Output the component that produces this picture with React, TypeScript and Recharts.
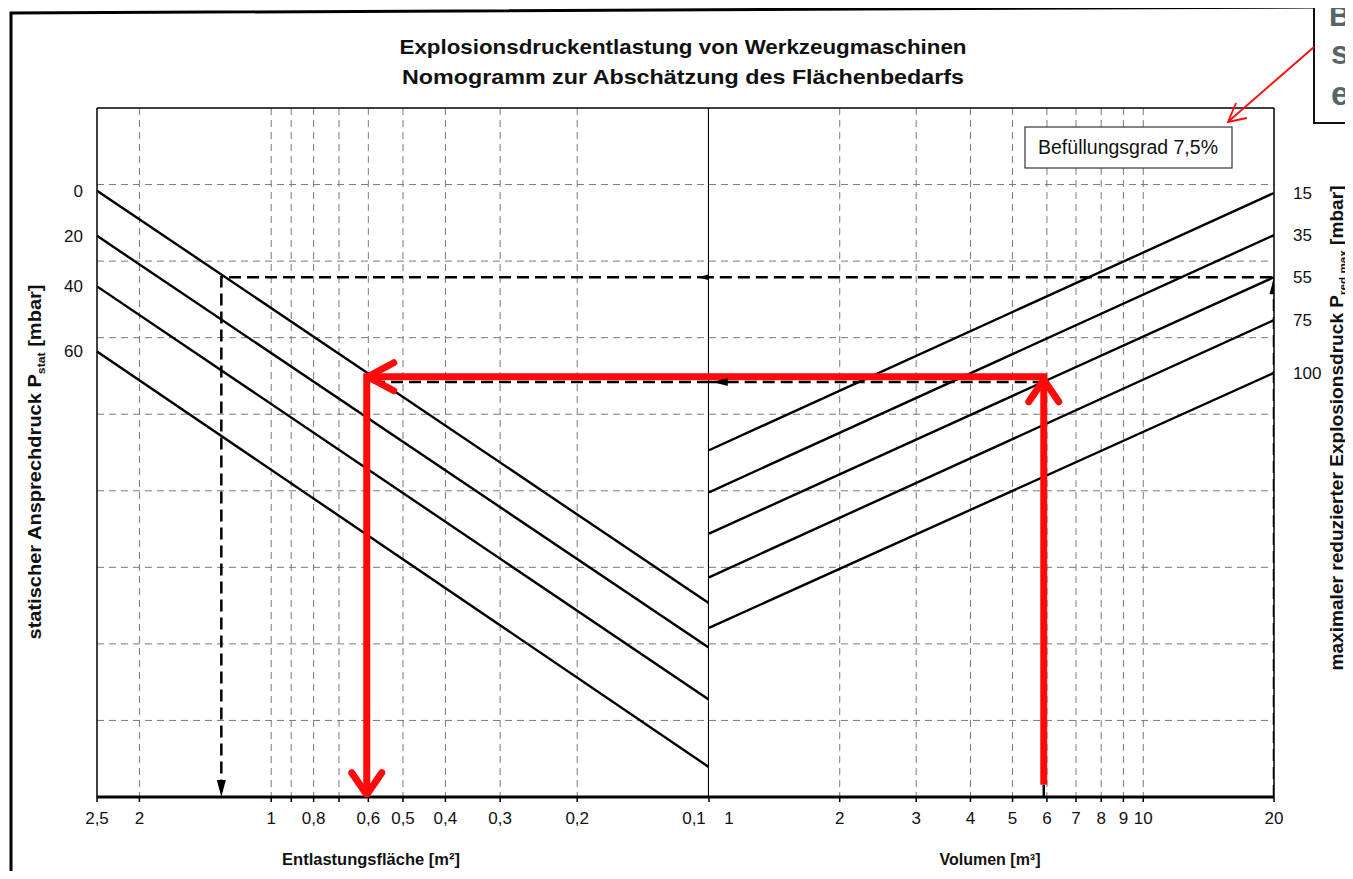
import React from 'react';
import { ComposedChart, Line, XAxis, YAxis, ReferenceLine, Scatter, CartesianGrid } from 'recharts';

// ---- Left panel: Entlastungsfläche [m²] (logarithmic, reversed) ----
const areaTicks = [2.5, 2, 1, 0.9, 0.8, 0.7, 0.6, 0.5, 0.4, 0.3, 0.2, 0.1];
const areaTickLabels = ['2,5', '2', '1', '', '0,8', '', '0,6', '0,5', '0,4', '0,3', '0,2', '0,1'];
const areaGrid = [2, 1, 0.9, 0.8, 0.7, 0.6, 0.5, 0.4, 0.3, 0.2];

// ---- Right panel: Volumen [m³] (logarithmic) ----
const volumeTicks = [1, 2, 3, 4, 5, 6, 7, 8, 9, 10, 20];
const volumeTickLabels = ['1', '2', '3', '4', '5', '6', '7', '8', '9', '10', '20'];
const volumeGrid = [2, 3, 4, 5, 6, 7, 8, 9, 10];

// nomogram vertical scale (0 = bottom, 90 = top)
const levelGrid = [10, 20, 30, 40, 50, 60, 70, 80];

// p_stat lines (left panel)
const pstatLabels = ['0', '20', '40', '60'];
const pstatAtMaxArea = [79.2, 73.3, 66.7, 58.2]; // at 2,5 m²
const pstatAtMinArea = [25.3, 19.5, 12.7, 3.9]; // at 0,1 m²

// p_red,max lines (right panel)
const predLabels = ['15', '35', '55', '75', '100'];
const predAtMinVolume = [45.3, 39.8, 34.4, 28.7, 22.1]; // at 1 m³
const predAtMaxVolume = [78.9, 73.4, 67.9, 62.3, 55.4]; // at 20 m³

// dashed example readings
const dashedLevels = [67.9, 54.2];
const dashedAreas = [1.3, 0.6];
const dashedVolumes = [20, 5.9];

// red worked example
const redLevel = 54.9;
const redArea = 0.605;
const redVolume = 5.9;
const redVolumeStartLevel = 1.6;
const redAreaEndLevel = 0.3;

const AREA_MIN = 0.1;
const AREA_MAX = 2.5;
const VOL_MIN = 1;
const VOL_MAX = 20;

const FONT = '"Liberation Sans", Arial, Helvetica, sans-serif';
const RED = '#ff0a0a';
const TICK_FS = 17;

const leftLines = pstatAtMaxArea.map((v, i) => [
  { x: AREA_MAX, y: v },
  { x: AREA_MIN, y: pstatAtMinArea[i] },
]);
const rightLines = predAtMinVolume.map((v, i) => [
  { x: VOL_MIN, y: v },
  { x: VOL_MAX, y: predAtMaxVolume[i] },
]);

const leftDashed = dashedLevels.map((lvl, i) => [
  { x: AREA_MIN, y: lvl },
  { x: dashedAreas[i], y: lvl },
  { x: dashedAreas[i], y: 0 },
]);
const rightDashed = dashedLevels.map((lvl, i) => [
  { x: dashedVolumes[i], y: 0 },
  { x: dashedVolumes[i], y: lvl },
  { x: VOL_MIN, y: lvl },
]);

const leftRed = [
  { x: AREA_MIN, y: redLevel },
  { x: redArea, y: redLevel },
  { x: redArea, y: redAreaEndLevel },
];
const rightRed = [
  { x: redVolume, y: redVolumeStartLevel },
  { x: redVolume, y: redLevel },
  { x: VOL_MIN, y: redLevel },
];

const TriDown = (p: any) => (
  <path d={`M${p.cx - 4.5},${p.cy - 17} L${p.cx + 4.5},${p.cy - 17} L${p.cx},${p.cy} Z`} fill="#000" />
);
const TriUp = (p: any) => (
  <path d={`M${p.cx - 4.5},${p.cy + 17} L${p.cx + 4.5},${p.cy + 17} L${p.cx},${p.cy} Z`} fill="#000" />
);
const TriLeft = (p: any) => (
  <path d={`M${p.cx + 15},${p.cy - 4} L${p.cx + 15},${p.cy + 4} L${p.cx},${p.cy} Z`} fill="#000" />
);
const ChevLeft = (p: any) => (
  <polyline
    points={`${p.cx + 27},${p.cy - 14} ${p.cx + 1},${p.cy} ${p.cx + 27},${p.cy + 14}`}
    fill="none" stroke={RED} strokeWidth={7} strokeLinecap="round" strokeLinejoin="round"
  />
);
const ChevDown = (p: any) => (
  <polyline
    points={`${p.cx - 15},${p.cy - 22} ${p.cx},${p.cy} ${p.cx + 15},${p.cy - 22}`}
    fill="none" stroke={RED} strokeWidth={7} strokeLinecap="round" strokeLinejoin="round"
  />
);
const ChevUp = (p: any) => (
  <polyline
    points={`${p.cx - 15},${p.cy + 22} ${p.cx},${p.cy} ${p.cx + 15},${p.cy + 22}`}
    fill="none" stroke={RED} strokeWidth={7} strokeLinecap="round" strokeLinejoin="round"
  />
);

const AreaTick = (props: any) => {
  const { x, y, payload } = props;
  const i = areaTicks.indexOf(payload.value);
  const label = i >= 0 ? areaTickLabels[i] : '';
  const dx = payload.value === AREA_MIN ? -15 : 0;
  return (
    <text x={x + dx} y={y} dy="0.71em" textAnchor="middle" fontSize={TICK_FS} fill="#111" fontFamily={FONT}>
      {label}
    </text>
  );
};
const VolumeTick = (props: any) => {
  const { x, y, payload } = props;
  const i = volumeTicks.indexOf(payload.value);
  const label = i >= 0 ? volumeTickLabels[i] : '';
  const dx = payload.value === VOL_MIN ? 20 : 0;
  return (
    <text x={x + dx} y={y} dy="0.71em" textAnchor="middle" fontSize={TICK_FS} fill="#111" fontFamily={FONT}>
      {label}
    </text>
  );
};
const PstatTick = (props: any) => {
  const { x, y, payload } = props;
  const i = pstatAtMaxArea.indexOf(payload.value);
  return (
    <text x={x} y={y} dy="0.35em" textAnchor="end" fontSize={TICK_FS} fill="#111" fontFamily={FONT}>
      {i >= 0 ? pstatLabels[i] : ''}
    </text>
  );
};
const PredTick = (props: any) => {
  const { x, y, payload } = props;
  const i = predAtMaxVolume.indexOf(payload.value);
  return (
    <text x={x} y={y} dy="0.35em" textAnchor="start" fontSize={TICK_FS} fill="#111" fontFamily={FONT}>
      {i >= 0 ? predLabels[i] : ''}
    </text>
  );
};

const lineProps = {
  type: 'linear' as const,
  dataKey: 'y',
  dot: false,
  activeDot: false,
  isAnimationActive: false,
  legendType: 'none' as const,
};

const CHART_TOP = 100;
const CHART_H = 871;
const PLOT_H = 689;
const X_AXIS_H = CHART_H - CHART_TOP - PLOT_H;

function LeftChart() {
  return (
    <ComposedChart width={701} height={CHART_H} margin={{ top: CHART_TOP, right: 0, bottom: 0, left: 0 }}>
      <CartesianGrid stroke="#7a7a7a" strokeWidth={1} strokeDasharray="7 5" verticalValues={areaGrid} horizontalValues={levelGrid} />
      <XAxis
        dataKey="x" type="number" scale="log" domain={[AREA_MIN, AREA_MAX]} reversed allowDataOverflow
        ticks={areaTicks} interval={0} height={X_AXIS_H}
        axisLine={{ stroke: '#000', strokeWidth: 3 }} tickLine={{ stroke: '#000', strokeWidth: 1.5 }}
        tickSize={5} tickMargin={10} tick={<AreaTick />}
      />
      <YAxis
        dataKey="y" type="number" domain={[0, 90]} allowDataOverflow width={89}
        ticks={pstatAtMaxArea} interval={0} tickLine={false} tickSize={0} tickMargin={14}
        axisLine={{ stroke: '#000', strokeWidth: 1.5 }} tick={<PstatTick />}
      />
      <ReferenceLine y={90} stroke="#000" strokeWidth={1.5} />
      <ReferenceLine x={AREA_MIN} stroke="#000" strokeWidth={2.2} />
      {leftLines.map((d, i) => (
        <Line key={'l' + i} {...lineProps} data={d} stroke="#000" strokeWidth={2.4} />
      ))}
      {leftDashed.map((d, i) => (
        <Line key={'ld' + i} {...lineProps} data={d} stroke="#000" strokeWidth={2.5} strokeDasharray="12 6" />
      ))}
      <Scatter data={[{ x: dashedAreas[0], y: 0 }]} shape={TriDown} isAnimationActive={false} legendType="none" />
      <Scatter data={[{ x: 0.106, y: dashedLevels[0] }]} shape={TriLeft} isAnimationActive={false} legendType="none" />
      <Line {...lineProps} data={leftRed} stroke={RED} strokeWidth={7} strokeLinejoin="miter" />
      <Scatter data={[{ x: redArea, y: redLevel }]} shape={ChevLeft} isAnimationActive={false} legendType="none" />
      <Scatter data={[{ x: redArea, y: redAreaEndLevel }]} shape={ChevDown} isAnimationActive={false} legendType="none" />
    </ComposedChart>
  );
}

function RightChart() {
  return (
    <ComposedChart width={644} height={CHART_H} margin={{ top: CHART_TOP, right: 0, bottom: 0, left: 0 }}>
      <CartesianGrid stroke="#7a7a7a" strokeWidth={1} strokeDasharray="7 5" verticalValues={volumeGrid} horizontalValues={levelGrid} />
      <XAxis
        dataKey="x" type="number" scale="log" domain={[VOL_MIN, VOL_MAX]} allowDataOverflow
        ticks={volumeTicks} interval={0} height={X_AXIS_H}
        axisLine={{ stroke: '#000', strokeWidth: 3 }} tickLine={{ stroke: '#000', strokeWidth: 1.5 }}
        tickSize={5} tickMargin={10} tick={<VolumeTick />}
      />
      <YAxis
        dataKey="y" type="number" domain={[0, 90]} allowDataOverflow width={79} orientation="right"
        ticks={predAtMaxVolume} interval={0} tickLine={false} tickSize={0} tickMargin={19}
        axisLine={{ stroke: '#000', strokeWidth: 1.5 }} tick={<PredTick />}
      />
      <ReferenceLine y={90} stroke="#000" strokeWidth={1.5} />
      {rightLines.map((d, i) => (
        <Line key={'r' + i} {...lineProps} data={d} stroke="#000" strokeWidth={2.4} />
      ))}
      {rightDashed.map((d, i) => (
        <Line key={'rd' + i} {...lineProps} data={d} stroke="#000" strokeWidth={2.5} strokeDasharray="12 6" />
      ))}
      <Scatter data={[{ x: dashedVolumes[0], y: dashedLevels[0] }]} shape={TriUp} isAnimationActive={false} legendType="none" />
      <Scatter data={[{ x: 1.02, y: dashedLevels[1] }]} shape={TriLeft} isAnimationActive={false} legendType="none" />
      <Line {...lineProps} data={rightRed} stroke={RED} strokeWidth={7} strokeLinejoin="miter" />
      <Scatter data={[{ x: redVolume, y: redLevel - 0.4 }]} shape={ChevUp} isAnimationActive={false} legendType="none" />
    </ComposedChart>
  );
}

export default function App() {
  return (
    <div style={{ position: 'relative', margin: -8, width: 1353, height: 879, overflow: 'hidden', background: '#fff', fontFamily: FONT }}>
      <div style={{ position: 'absolute', left: 8, top: 8 }}>
        <LeftChart />
      </div>
      <div style={{ position: 'absolute', left: 709, top: 8 }}>
        <RightChart />
      </div>
      <svg width={1353} height={879} style={{ position: 'absolute', left: 0, top: 0, pointerEvents: 'none' }}>
        <g fontFamily={FONT}>
          {/* outer frame */}
          <path d="M11,880 L11,13 L1314,7" fill="none" stroke="#000" strokeWidth={3} />
          {/* title */}
          <text x={683} y={54} textAnchor="middle" fontSize={21} fontWeight="bold" fill="#111" textLength={567} lengthAdjust="spacingAndGlyphs">
            Explosionsdruckentlastung von Werkzeugmaschinen
          </text>
          <text x={683} y={84} textAnchor="middle" fontSize={21} fontWeight="bold" fill="#111" textLength={562} lengthAdjust="spacingAndGlyphs">
            Nomogramm zur Abschätzung des Flächenbedarfs
          </text>
          {/* axis titles */}
          <text x={371} y={865} textAnchor="middle" fontSize={16.5} fontWeight="bold" fill="#111">
            Entlastungsfläche [m²]
          </text>
          <text x={990} y={865} textAnchor="middle" fontSize={16} fontWeight="bold" fill="#111">
            Volumen [m³]
          </text>
          <text transform="translate(41,462) rotate(-90)" textAnchor="middle" fontSize={18} fontWeight="bold" fill="#111" textLength={355} lengthAdjust="spacingAndGlyphs">
            statischer Ansprechdruck P<tspan fontSize={11} dy={4}>stat</tspan>
            <tspan dy={-4}> [mbar]</tspan>
          </text>
          <text transform="translate(1343,428) rotate(-90)" textAnchor="middle" fontSize={18} fontWeight="bold" fill="#111" textLength={485} lengthAdjust="spacingAndGlyphs">
            maximaler reduzierter Explosionsdruck P<tspan fontSize={11} dy={4}>red,max</tspan>
            <tspan dy={-4}> [mbar]</tspan>
          </text>
          {/* filling-degree box */}
          <rect x={1025} y={127} width={207} height={41} fill="#fff" stroke="#333" strokeWidth={1.2} />
          <text x={1128} y={154} textAnchor="middle" fontSize={19.5} fill="#111">
            Befüllungsgrad 7,5%
          </text>
          {/* annotation callout */}
          <rect x={1314} y={-10} width={80} height={133} fill="#fff" stroke="#111" strokeWidth={2} />
          <text x={1329} y={26} fontSize={30} fontWeight="bold" fill="#566666">B</text>
          <text x={1331} y={64} fontSize={33} fontWeight="bold" fill="#566666">s</text>
          <text x={1331} y={105} fontSize={33} fontWeight="bold" fill="#566666">e</text>
          <line x1={1314} y1={47} x2={1229} y2={121} stroke={RED} strokeWidth={1.8} />
          <polyline points="1236,103 1228,122 1247,118" fill="none" stroke={RED} strokeWidth={1.8} />
        </g>
      </svg>
    </div>
  );
}
